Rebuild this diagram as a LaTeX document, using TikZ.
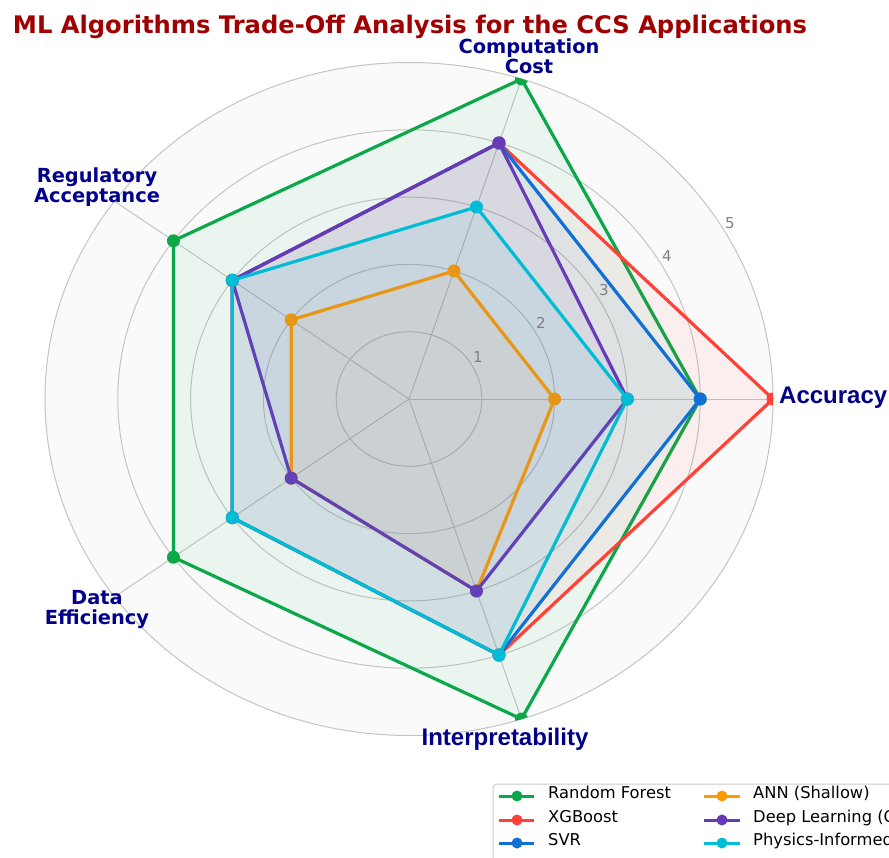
\documentclass[tikz,border=0pt]{standalone}
\usepackage{fontspec}
\newfontfamily\djv{DejaVu Sans}
\newfontfamily\lib{Liberation Sans}
\definecolor{cRF}{HTML}{0BA84A}
\definecolor{cXGB}{HTML}{FF4136}
\definecolor{cSVR}{HTML}{1070D6}
\definecolor{cANN}{HTML}{FF9A00}
\definecolor{cDL}{HTML}{673AB7}
\definecolor{cPI}{HTML}{00BCD4}
\definecolor{titlered}{HTML}{A00000}
\definecolor{navylab}{HTML}{00008B}
\definecolor{gridc}{HTML}{C4C4C4}
\definecolor{bgin}{HTML}{FAFAFA}
\definecolor{tickc}{HTML}{808080}
\definecolor{legborder}{HTML}{CCCCCC}
\begin{document}
\begin{tikzpicture}[x=1pt,y=-1pt,
  gridline/.style={draw=gridc, line width=1pt},
  mk/.style={circle, inner sep=0pt, minimum size=13pt, draw=none},
  mksmall/.style={circle, inner sep=0pt, minimum size=11pt, draw=none},
  serline/.style={line width=3.2pt, line join=round},
  ticklab/.style={font=\djv\fontsize{15}{18}\selectfont, text=tickc, inner sep=0pt},
  axlab/.style={font=\djv\bfseries\fontsize{19.4}{20}\selectfont, text=navylab, align=center, inner sep=0pt, anchor=north},
  axlabbig/.style={font=\lib\bfseries\fontsize{24}{28}\selectfont, text=navylab, inner sep=0pt},
  legtext/.style={font=\djv\fontsize{16.3}{19}\selectfont, text=black, inner sep=0pt, anchor=mid west},
  leghandle/.style={line width=3pt}
]
\clip (0,0) rectangle (889,857);
\fill[white] (0,0) rectangle (889,857);

% ---------- radar ----------
\begin{scope}[shift={(409,399)}, x=72.8pt, y=67.3pt]
  \fill[bgin] (0,0) ellipse [x radius=364pt, y radius=336.5pt];
  \foreach \r in {1,...,5}
    \draw[gridline] (0,0) ellipse [x radius={\r*72.8pt}, y radius={\r*67.3pt}];
  \coordinate (ctr) at (0,0);
  \foreach \a [count=\k] in {0,72,144,216,288} {
    \coordinate (ax\k) at (\a:5);
    \draw[gridline] (ctr) -- (ax\k);
  }
  \begin{scope}
    \clip (0,0) ellipse [x radius=364pt, y radius=336.5pt];
    \foreach \n/\c/\va/\vb/\vc/\vd/\ve in {
        rf/cRF/4/5/4/4/5,
        xgb/cXGB/5/4/3/3/4,
        svr/cSVR/4/4/3/3/4,
        ann/cANN/2/2/2/2/3,
        dl/cDL/3/4/3/2/3,
        pi/cPI/3/3/3/3/4} {
      \coordinate (\n1) at (0:\va);
      \coordinate (\n2) at (72:\vb);
      \coordinate (\n3) at (144:\vc);
      \coordinate (\n4) at (216:\vd);
      \coordinate (\n5) at (288:\ve);
      \fill[\c, opacity=0.06] (\n1) -- (\n2) -- (\n3) -- (\n4) -- (\n5) -- cycle;
      \draw[\c, serline] (\n1) -- (\n2) -- (\n3) -- (\n4) -- (\n5) -- cycle;
      \foreach \i in {1,...,5}
        \node[mk, fill=\c] (\n m\i) at (\n\i) {};
    }
  \end{scope}
\end{scope}

% ---------- radial tick labels ----------
\node[ticklab] (t1) at (478,357) {1};
\node[ticklab] (t2) at (541,323) {2};
\node[ticklab] (t3) at (604,290) {3};
\node[ticklab] (t4) at (667,256) {4};
\node[ticklab] (t5) at (730,223) {5};

% ---------- axis labels ----------
\node[axlabbig, anchor=base west] (lacc) at (779,403) {Accuracy};
\node[axlab] (lcc) at (529,38.5) {Computation\\Cost};
\node[axlab] (lreg) at (97,168) {Regulatory\\Acceptance};
\node[axlab] (ldata) at (97,590) {Data\\Efficiency};
\node[axlabbig, anchor=base] (lint) at (505,745) {Interpretability};

% ---------- title ----------
\node[anchor=base, text=titlered, inner sep=0pt,
      font=\djv\bfseries\fontsize{24.2}{28}\selectfont] (title) at (410,33)
  {ML Algorithms Trade-Off Analysis for the CCS Applications};

% ---------- legend ----------
\draw[draw=legborder, fill=white, line width=1pt, rounded corners=4pt] (493,784) rectangle (910,880);
\foreach \c/\t/\yy [count=\k] in {cRF/Random Forest/796, cXGB/XGBoost/820, cSVR/SVR/843} {
  \draw[\c, leghandle] (499,\yy) -- (534,\yy);
  \node[mksmall, fill=\c] (lgm\k) at (517,\yy) {};
  \node[legtext] (lgt\k) at (548,\yy) {\t};
}
\foreach \c/\t/\yy [count=\k from 4] in {cANN/ANN (Shallow)/796, cDL/Deep Learning (C/820, cPI/Physics-Informed/843} {
  \draw[\c, leghandle] (704,\yy) -- (740,\yy);
  \node[mksmall, fill=\c] (lgm\k) at (722,\yy) {};
  \node[legtext] (lgt\k) at (753,\yy) {\t};
}
\end{tikzpicture}
\end{document}
